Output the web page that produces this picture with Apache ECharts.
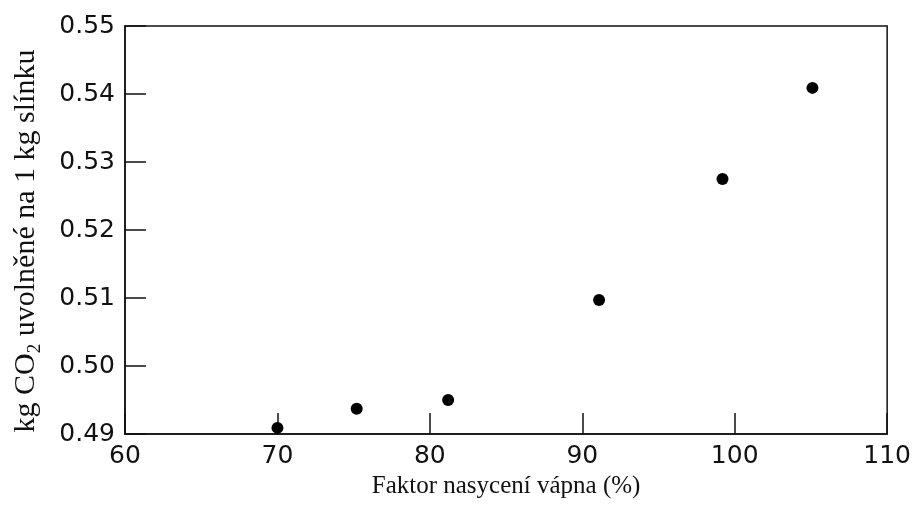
<!DOCTYPE html>
<html>
<head>
<meta charset="utf-8">
<script src="https://cdn.jsdelivr.net/npm/echarts@6/dist/echarts.min.js"></script>
<style>
html,body{margin:0;padding:0;background:#fff;}
#chart{width:914px;height:515px;}
</style>
</head>
<body>
<div id="chart"></div>
<script>
// Data
var saturationFactor = [70.0, 75.2, 81.2, 91.1, 99.2, 105.1];
var co2PerKgClinker = [0.4909, 0.4937, 0.4950, 0.5097, 0.5275, 0.5409];
var xTitle = 'Faktor nasycení vápna (%)';
var yTitleParts = ['kg CO', '2', ' uvolněné na 1 kg slínku'];

var points = saturationFactor.map(function (x, i) { return [x, co2PerKgClinker[i]]; });

var chart = echarts.init(document.getElementById('chart'), null, {renderer: 'canvas'});
chart.setOption({
  animation: false,
  backgroundColor: '#fff',
  grid: {left: 125, right: 25, top: 26, bottom: 81, show: true, borderColor: '#111', borderWidth: 1.5, backgroundColor: 'transparent'},
  xAxis: {
    type: 'value', min: 60, max: 110, interval: 10,
    axisLine: {show: true, lineStyle: {color: '#111', width: 1.5}},
    axisTick: {show: true, inside: true, length: 21, lineStyle: {color: '#111', width: 1.5}},
    splitLine: {show: false},
    axisLabel: {color: '#111', fontFamily: 'DejaVu Sans', fontSize: 25, margin: 10},
    name: xTitle, nameLocation: 'middle', nameGap: 37,
    nameTextStyle: {color: '#111', fontFamily: 'Liberation Serif', fontSize: 25}
  },
  yAxis: {
    type: 'value', min: 0.49, max: 0.55, interval: 0.01,
    axisLine: {show: true, lineStyle: {color: '#111', width: 1.5}},
    axisTick: {show: true, inside: true, length: 21, lineStyle: {color: '#111', width: 1.5}},
    splitLine: {show: false},
    axisLabel: {color: '#111', fontFamily: 'DejaVu Sans', fontSize: 25, margin: 10,
      formatter: function (v) { return v.toFixed(2); }},
    name: '{a|' + yTitleParts[0] + '}{s|' + yTitleParts[1] + '}{a|' + yTitleParts[2] + '}',
    nameLocation: 'middle', nameGap: 84, nameRotate: 90,
    nameTextStyle: {
      color: '#111', fontFamily: 'Liberation Serif', fontSize: 30, padding: [0, 22, 0, 0],
      rich: {
        a: {fontFamily: 'Liberation Serif', fontSize: 30, color: '#111', lineHeight: 32, verticalAlign: 'bottom'},
        s: {fontFamily: 'Liberation Serif', fontSize: 19, color: '#111', lineHeight: 32, verticalAlign: 'bottom', padding: [0, 0, -4, 0]}
      }
    }
  },
  series: [{
    type: 'scatter',
    data: points,
    symbol: 'circle',
    symbolSize: 12,
    itemStyle: {color: '#000', opacity: 1}
  }]
});
</script>
</body>
</html>
